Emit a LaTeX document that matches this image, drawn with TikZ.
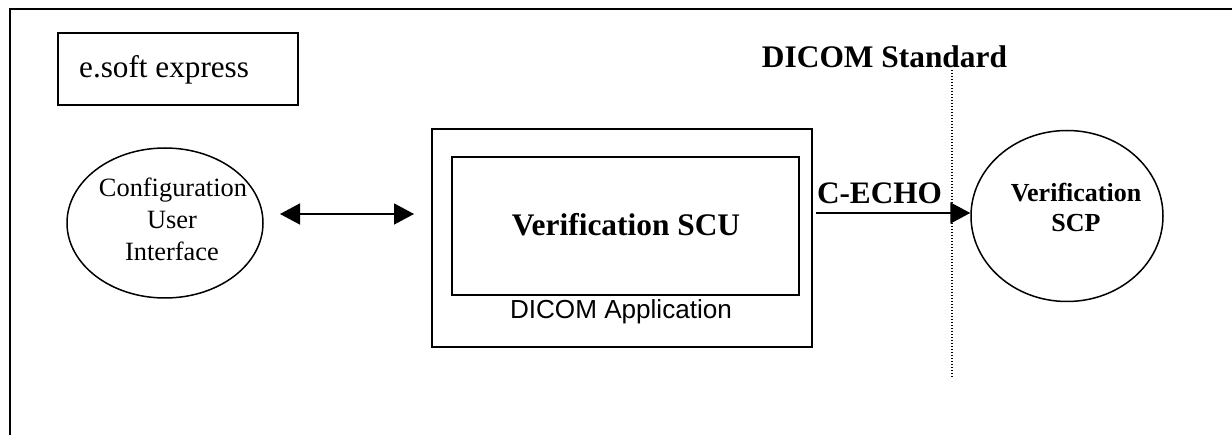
\documentclass[tikz,border=0pt]{standalone}
\usepackage{fontspec}
\setmainfont{Liberation Serif}
\newfontfamily\arialfont{Liberation Sans}
\usetikzlibrary{arrows.meta,shapes.geometric}
\begin{document}
\begin{tikzpicture}[x=1pt,y=-1pt,
  frameline/.style={line width=1.8pt},
  boxline/.style={draw,line width=1.6pt,inner sep=0pt,rectangle},
  oval/.style={draw,ellipse,line width=1.5pt,inner sep=0pt},
  txt/.style={inner sep=0pt,anchor=base},
  arr/.style={line width=1.6pt,-{Triangle[length=20pt,width=21pt]}},
  darr/.style={line width=1.6pt,{Triangle[length=20pt,width=21pt]}-{Triangle[length=20pt,width=21pt]}},
  boldbig/.style={font=\fontsize{31.4}{36}\selectfont\bfseries},
  regbig/.style={font=\fontsize{31.2}{36}\selectfont},
  cfgfont/.style={font=\fontsize{26.4}{32}\selectfont},
  scpfont/.style={font=\fontsize{26}{30}\selectfont\bfseries},
  appfont/.style={font=\fontsize{26.1}{30}\selectfont\arialfont}
]
\useasboundingbox (0,0) rectangle (1232,435);
\fill[white] (0,0) rectangle (1232,435);
% outer frame (cut off at right and bottom)
\coordinate (fbl) at (10,436);
\coordinate (ftl) at (10,9);
\coordinate (ftr) at (1233,9);
\draw[frameline] (fbl) -- (ftl) -- (ftr);

% e.soft express box
\node[boxline,minimum width=240pt,minimum height=72pt] (esoft) at (178,69) {};
\node[txt,anchor=base west,regbig] (esofttext) at (79,78) {e.soft express};

% configuration UI ellipse
\node[oval,minimum width=196pt,minimum height=150pt] (cfg) at (165,223) {};
\node[txt,cfgfont] (cfg1) at (173,197) {Configuration};
\node[txt,cfgfont] (cfg2) at (172,229) {User};
\node[txt,cfgfont] (cfg3) at (172,261) {Interface};

% DICOM application box
\node[boxline,minimum width=380pt,minimum height=218pt] (app) at (622,238) {};
\node[boxline,minimum width=347pt,minimum height=138pt] (scu) at (625.5,226) {};
\node[txt,boldbig] (scutext) at (626,236) {Verification SCU};
\node[txt,appfont] (apptext) at (621,319) {DICOM Application};

% double arrow
\coordinate (dl) at (280,214);
\coordinate (dr) at (414,214);
\draw[darr] (dl) -- (dr);

% DICOM standard label and dotted line
\node[txt,boldbig] (std) at (884.5,68) {DICOM Standard};
\coordinate (dtop) at (952,70);
\coordinate (dbot) at (952,379);
\draw[line width=1.7pt,dash pattern=on 1.5pt off 1.5pt] (dtop) -- (dbot);

% SCP ellipse
\node[oval,minimum width=192pt,minimum height=171pt] (scp) at (1067,216) {};
\node[txt,scpfont] (scp1) at (1076,202) {Verification};
\node[txt,scpfont] (scp2) at (1076,232) {SCP};

% C-ECHO arrow
\coordinate (es) at (816,213);
\draw[arr] (es) -- (es -| scp.west);
\node[txt,font=\fontsize{31.25}{36}\selectfont\bfseries] (echo) at (879.5,204) {C-ECHO};
\end{tikzpicture}
\end{document}
